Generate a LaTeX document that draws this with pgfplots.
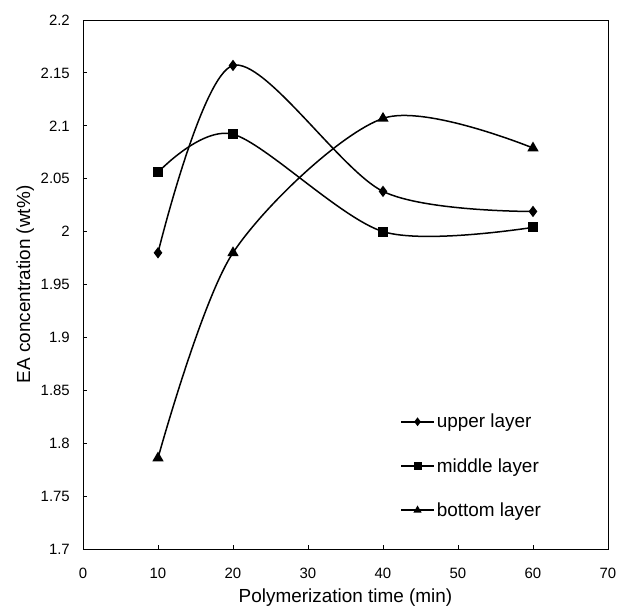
\documentclass[border=0pt]{standalone}
\usepackage{pgfplots}
\pgfplotsset{compat=1.18}
\usepackage{fontspec}
\setmainfont{Liberation Sans}
\begin{document}
\begin{tikzpicture}
\begin{axis}[
    scale only axis,
    width=525bp, height=529bp,
    xmin=0, xmax=70, ymin=1.7, ymax=2.2,
    xtick={0,10,20,30,40,50,60,70},
    ytick={1.7,1.75,1.8,1.85,1.9,1.95,2,2.05,2.1,2.15,2.2},
    tick pos=left, tick align=inside,
    major tick length=4bp,
    axis line style={line width=0.8bp},
    tick style={line width=0.8bp, black},
    /pgf/number format/assume math mode=true,
    yticklabel style={/pgf/number format/fixed, /pgf/number format/precision=2, inner sep=0pt},
    xticklabel style={inner sep=0pt},
    xticklabel shift=19bp,
    yticklabel shift=13bp,
    ticklabel style={font=\fontsize{15}{18}\selectfont},
    xlabel={Polymerization time (min)},
    ylabel={EA concentration (wt\%)},
    every axis x label/.style={at={(axis description cs:0.5,-0.102)}, anchor=base,
        inner sep=0pt, font=\fontsize{19}{22}\selectfont},
    every axis y label/.style={at={(axis description cs:-0.110,0.5)}, anchor=center, rotate=90,
        inner sep=0pt, font=\fontsize{19}{22}\selectfont},
    legend style={draw=none, fill=none, at={(axis description cs:0.604,0.259)}, anchor=north west,
        inner sep=0pt, row sep=25bp, font=\fontsize{19}{22}\selectfont},
    legend cell align=left,
    legend image code/.code={\draw[mark repeat=2, mark phase=2, #1, mark size=3.2bp]
        plot coordinates {(0bp,0bp) (16.5bp,0bp) (33bp,0bp)};},
    every axis plot/.append style={black, line width=1.5bp, smooth, mark options={solid, fill=black}},
]
\addplot[mark=diamond*, mark size=4.5bp] coordinates {
    (10,1.980) (20,2.157) (40,2.038) (60,2.019)
};
\addplot[mark=square*, mark size=4.2bp] coordinates {
    (10,2.056) (20,2.092) (40,2.000) (60,2.004)
};
\addplot[mark=triangle*, mark size=5bp] coordinates {
    (10,1.786) (20,1.980) (40,2.107) (60,2.079)
};
\legend{upper layer, middle layer, bottom layer}
\end{axis}
\path (current axis.south west) ++(-83bp,-58bp) rectangle ++(623bp,607bp);
\end{tikzpicture}
\end{document}
